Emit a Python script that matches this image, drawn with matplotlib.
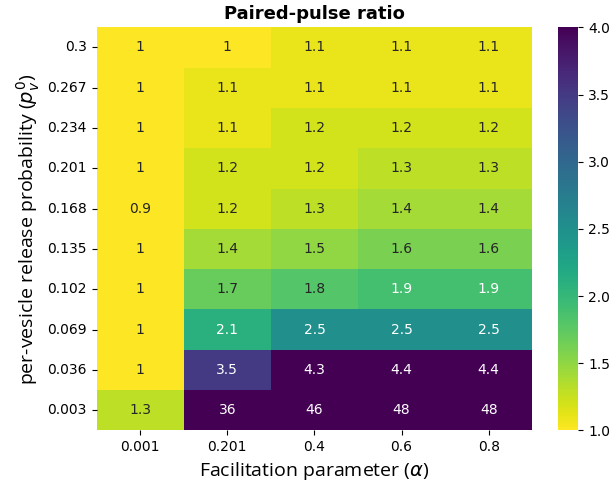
import numpy as np
import matplotlib
matplotlib.use("Agg")
import matplotlib.pyplot as plt
import seaborn as sns

# facilitation parameter (columns) and release probability (rows, top to bottom)
alphas = ["0.001", "0.201", "0.4", "0.6", "0.8"]
p_rel = ["0.3", "0.267", "0.234", "0.201", "0.168", "0.135", "0.102", "0.069", "0.036", "0.003"]

row_03 = [1, 1, 1.1, 1.1, 1.1]
row_0267 = [1, 1.1, 1.1, 1.1, 1.1]
row_0234 = [1, 1.1, 1.2, 1.2, 1.2]
row_0201 = [1, 1.2, 1.2, 1.3, 1.3]
row_0168 = [0.9, 1.2, 1.3, 1.4, 1.4]
row_0135 = [1, 1.4, 1.5, 1.6, 1.6]
row_0102 = [1, 1.7, 1.8, 1.9, 1.9]
row_0069 = [1, 2.1, 2.5, 2.5, 2.5]
row_0036 = [1, 3.5, 4.3, 4.4, 4.4]
row_0003 = [1.3, 36, 46, 48, 48]

ppr = np.array([row_03, row_0267, row_0234, row_0201, row_0168,
                row_0135, row_0102, row_0069, row_0036, row_0003])

fig = plt.figure(figsize=(6.16, 4.88), dpi=100)
ax = fig.add_axes([0.157, 0.118, 0.707, 0.826])
cax = fig.add_axes([0.906, 0.118, 0.033, 0.826])

sns.heatmap(ppr, ax=ax, cbar_ax=cax, cmap="viridis_r", vmin=1, vmax=4,
            annot=True, fmt=".2g", annot_kws={"fontsize": 10},
            xticklabels=alphas, yticklabels=p_rel)

ax.set_title("Paired-pulse ratio", fontsize=13, fontweight="bold")
ax.set_xlabel(r"Facilitation parameter ($\alpha$)", fontsize=14, family="Open Sans")
ax.set_ylabel(r"per-vesicle release probability ($p_v^0$)", fontsize=14, family="Open Sans")
ax.tick_params(labelsize=10)
plt.setp(ax.get_yticklabels(), rotation=0)
plt.setp(ax.get_xticklabels(), rotation=0)
cax.tick_params(labelsize=10)

fig.savefig("out.png", dpi=100)
